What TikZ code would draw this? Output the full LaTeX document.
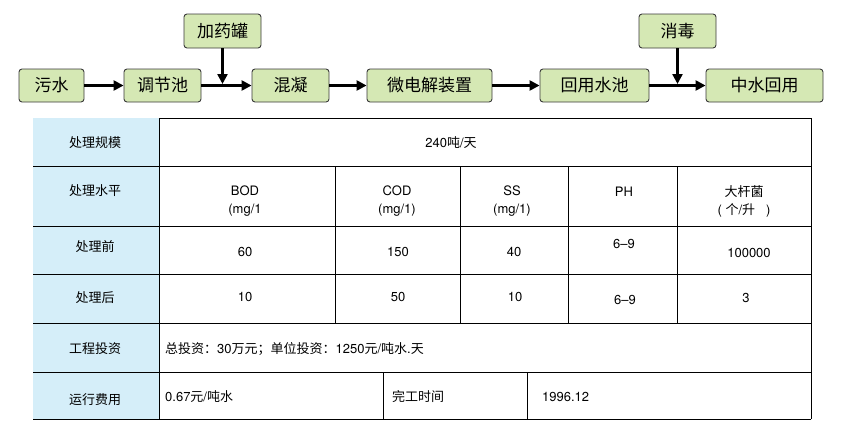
\documentclass[tikz,border=0pt]{standalone}
\usepackage{fontspec}
\setmainfont{TeX Gyre Heros}
\newfontfamily\cjkfont{Noto Sans CJK SC}
\usetikzlibrary{arrows.meta}
\definecolor{boxgreen}{HTML}{D5E8B4}
\definecolor{boxline}{HTML}{3A3A3A}
\definecolor{headblue}{HTML}{D5EEF9}
\begin{document}
\begin{tikzpicture}[x=1pt,y=-1pt,
    step node/.style={draw=boxline,fill=boxgreen,rounded corners=3pt,line width=0.9pt,minimum height=33pt,inner sep=0pt,font=\cjkfont\fontsize{17}{17}\selectfont},
    flow/.style={line width=2.4pt,-{Triangle[length=10pt,width=10pt]}},
    cell/.style={font=\fontsize{13}{18}\selectfont,align=center,inner sep=0pt},
    head/.style={cell,font=\cjkfont\fontsize{13}{18}\selectfont}]
    \useasboundingbox (0,0) rectangle (841,437);

    % flow chart
    \node[step node,minimum width=65pt] at (51.5,85.5) (wushui) {污水};
    \node[step node,minimum width=77pt] at (162.5,85.5) (tiaojie) {调节池};
    \node[step node,minimum width=77pt,minimum height=34pt] at (222.5,31) (jiayao) {加药罐};
    \node[step node,minimum width=77pt] at (290.5,85.5) (hunning) {混凝};
    \node[step node,minimum width=125pt] at (429.5,85.5) (weidian) {微电解装置};
    \node[step node,minimum width=109pt] at (594.5,85.5) (huiyong) {回用水池};
    \node[step node,minimum width=77pt,minimum height=34pt] at (677.5,31) (xiaodu) {消毒};
    \node[step node,minimum width=117pt] at (764.5,85.5) (zhongshui) {中水回用};

    \path[flow]
        (wushui) edge (tiaojie)
        (tiaojie) edge (hunning)
        (hunning) edge (weidian)
        (weidian) edge (huiyong)
        (huiyong) edge (zhongshui)
        ;
    \draw[flow,shorten >=1.5pt] (jiayao.south) -- (jiayao.south |- tiaojie.east);
    \draw[flow,shorten >=1.5pt] (xiaodu.south) -- (xiaodu.south |- huiyong.east);

    % table
    \fill[headblue] (33,118) rectangle (159,419);
    \begin{scope}[line width=0.9pt]
        \draw (159,118) -- (811,118);
        \foreach \y in {166,226,274,323,372,419}
            \draw (33,\y) -- (811,\y);
        \draw (159,118) -- (159,419);
        \draw (811,118) -- (811,419);
        \foreach \x in {335,460,568,677}
            \draw (\x,166) -- (\x,323);
        \draw (383,372) -- (383,419);
        \draw (527,372) -- (527,419);
    \end{scope}

    \node[head] at (95,143) (h1) {处理规模};
    \node[head] at (95,191) (h2) {处理水平};
    \node[head] at (95,247) (h3) {处理前};
    \node[head] at (95,298) (h4) {处理后};
    \node[head] at (95,349) (h5) {工程投资};
    \node[head] at (95,400) (h6) {运行费用};

    \node[cell] at (451,143) (scale) {240{\cjkfont 吨}/{\cjkfont 天}};

    \node[cell] at (245,201) (bod) {BOD\\(mg/1};
    \node[cell] at (397,201) (cod) {COD\\(mg/1)};
    \node[cell] at (512,201) (ss) {SS\\(mg/1)};
    \node[cell] at (624,192) (ph) {PH};
    \node[cell] at (744,201) (germ) {{\cjkfont 大杆菌}\\( {\cjkfont 个}/{\cjkfont 升}\ \ \ )};

    \node[cell] at (245,252) (bod1) {60};
    \node[cell] at (398,252) (cod1) {150};
    \node[cell] at (514,252) (ss1) {40};
    \node[cell] at (624,244) (ph1) {6--9};
    \node[cell] at (749,253) (germ1) {100000};

    \node[cell] at (245,297) (bod2) {10};
    \node[cell] at (398,297) (cod2) {50};
    \node[cell] at (515,297) (ss2) {10};
    \node[cell] at (625,300) (ph2) {6--9};
    \node[cell] at (746,298) (germ2) {3};

    \node[cell,anchor=west] at (165,349) (cost) {{\cjkfont 总投资：}30{\cjkfont 万元；单位投资：}1250{\cjkfont 元}/{\cjkfont 吨水}.{\cjkfont 天}};
    \node[cell,anchor=west] at (165,397) (run) {0.67{\cjkfont 元}/{\cjkfont 吨水}};
    \node[cell,anchor=west] at (392,397) (done) {{\cjkfont 完工时间}};
    \node[cell,anchor=west] at (542,397) (date) {1996.12};
\end{tikzpicture}
\end{document}
